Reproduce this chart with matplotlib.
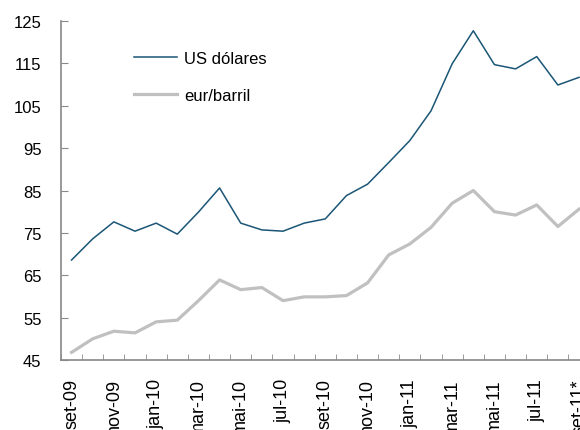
import matplotlib.pyplot as plt

plt.rcParams['font.family'] = ['Liberation Sans', 'DejaVu Sans']

# meses (set-09 a set-11)
meses = ['set-09', 'out-09', 'nov-09', 'dez-09', 'jan-10', 'fev-10', 'mar-10',
         'abr-10', 'mai-10', 'jun-10', 'jul-10', 'ago-10', 'set-10', 'out-10',
         'nov-10', 'dez-10', 'jan-11', 'fev-11', 'mar-11', 'abr-11', 'mai-11',
         'jun-11', 'jul-11', 'ago-11', 'set-11*']

us_dolares = [68.6, 73.6, 77.6, 75.4, 77.3, 74.7, 79.9, 85.6, 77.3, 75.7, 75.4,
              77.3, 78.3, 83.8, 86.5, 91.6, 96.8, 103.8, 114.9, 122.7, 114.7,
              113.7, 116.6, 109.9, 111.7]
eur_barril = [46.8, 50.0, 51.8, 51.4, 54.0, 54.4, 59.0, 63.9, 61.6, 62.1, 59.0,
              59.9, 59.9, 60.2, 63.2, 69.8, 72.4, 76.3, 82.0, 85.0, 80.0,
              79.2, 81.6, 76.5, 80.6]

yticks = [45, 55, 65, 75, 85, 95, 105, 115, 125]

fig = plt.figure(figsize=(5.8, 4.31), dpi=100)
ax = fig.add_axes([61 / 580, 1 - 361 / 431, (589.6 - 61) / 580, (361 - 22) / 431])

x = list(range(len(meses)))
ax.plot(x, us_dolares, color='#1b5676', linewidth=1.1, label='US dólares')
ax.plot(x, eur_barril, color='#c0c0c0', linewidth=2.3, label='eur/barril')

ax.set_xlim(-0.5, len(meses) - 0.5)
ax.set_ylim(45, 125)
ax.set_yticks(yticks)
ax.set_xticks(x[::2])
ax.set_xticklabels(meses[::2], rotation=90)
ax.set_xticks([i - 0.5 for i in range(len(meses) + 1)], minor=True)

ax.tick_params(axis='x', which='major', length=0, pad=13, labelsize=13)
ax.tick_params(axis='x', which='minor', direction='in', length=4, color='#888888')
ax.tick_params(axis='y', direction='in', length=5, color='#888888', labelsize=12, pad=14)

for s in ['top', 'right']:
    ax.spines[s].set_visible(False)
for s in ['left', 'bottom']:
    ax.spines[s].set_color('#888888')
    ax.spines[s].set_linewidth(1.2)

ax.legend(loc='upper left', bbox_to_anchor=(0.11, 0.955), frameon=False,
          fontsize=12, handlelength=2.6, handletextpad=0.4, labelspacing=1.3)

plt.savefig('out.png', dpi=100)
